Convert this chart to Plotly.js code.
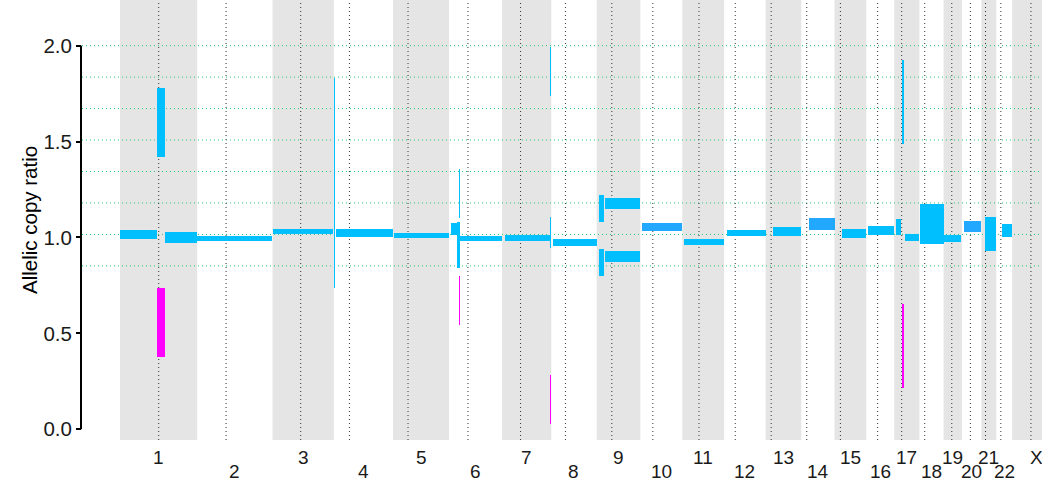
<!DOCTYPE html>
<html><head><meta charset="utf-8">
<script src="https://cdn.plot.ly/plotly-3.0.1.min.js"></script>
<style>html,body{margin:0;padding:0;background:#fff;}</style>
</head><body><div id="chart" style="width:1042px;height:497px;"></div>
<script>
// Chromosomes (Mb)
const chromNames = ['1','2','3','4','5','6','7','8','9','10','11','12','13','14','15','16','17','18','19','20','21','22','X'];
const chromLengths = [249.25, 243.2, 198.0, 191.15, 180.9, 171.1, 159.1, 146.4, 141.2, 135.5, 135.0, 133.85, 115.2, 107.3, 102.5, 90.35, 81.2, 78.1, 59.1, 63.0, 48.1, 51.3, 155.3];
const centromeres = [125.0, 93.3, 91.0, 50.4, 48.4, 61.0, 59.9, 45.6, 49.0, 40.2, 53.7, 35.8, 17.9, 17.6, 19.0, 36.6, 24.0, 17.2, 26.5, 27.5, 13.2, 14.7, 60.6];
// Expected allelic copy ratio levels (green dotted lines)
const refLevels = [0.852, 1.016, 1.180, 1.344, 1.508, 1.672, 1.836, 2.000];
const yTicks = [0, 0.5, 1.0, 1.5, 2.0];
const yTickText = ['0.0', '0.5', '1.0', '1.5', '2.0'];

// Major-allele segments (blue): chromosome index, start/end Mb, lower/upper ratio, tone (0 = deep sky blue, 1 = lighter blue)
const majChr   = [0, 0, 0, 1, 2, 3, 3, 4, 5, 5, 5, 5, 6, 6, 6, 7, 8, 8, 8, 8, 9, 10, 11, 12, 13, 14, 15, 16, 16, 16, 17, 18, 19, 20, 21];
const majStart = [0, 119.5, 145.3, 0, 0, 0, 7, 3, 6, 25.5, 32, 35.2, 9.7, 155, 155, 5.5, 7.4, 7.4, 26.8, 26.8, 5, 5.5, 9, 24, 25, 24, 5.5, 5.5, 24.9, 34.5, 2, 0.5, 7, 11.6, 18.4];
const majEnd   = [119.5, 145.3, 249.0, 243.0, 195.3, 3, 191.0, 181.0, 25.5, 35.2, 35.2, 171.1, 155, 159.1, 158, 146.4, 23.6, 23.6, 141.2, 141.2, 135.5, 135.0, 133.85, 115.2, 107.3, 102.5, 89.4, 21.6, 31.3, 81.2, 78.1, 56, 63.0, 47.0, 50.7];
const majLow   = [0.992, 1.421, 0.971, 0.982, 1.018, 0.737, 1.002, 0.997, 1.013, 0.841, 1.101, 0.982, 0.982, 0.945, 1.738, 0.955, 1.081, 0.799, 1.149, 0.871, 1.034, 0.961, 1.008, 1.008, 1.039, 0.997, 1.013, 1.013, 1.487, 0.981, 0.966, 0.976, 1.029, 0.929, 1.002];
const majHigh  = [1.039, 1.779, 1.029, 1.008, 1.044, 1.830, 1.044, 1.023, 1.075, 1.080, 1.357, 1.008, 1.013, 1.106, 1.993, 0.992, 1.221, 0.940, 1.206, 0.928, 1.075, 0.992, 1.039, 1.055, 1.102, 1.044, 1.060, 1.096, 1.925, 1.018, 1.174, 1.013, 1.086, 1.107, 1.070];
const majTone  = [0, 0, 0, 0, 0, 0, 0, 0, 0, 0, 0, 0, 0, 0, 0, 0, 0, 0, 0, 0, 1, 0, 0, 0, 1, 0, 0, 0, 0, 0, 0, 0, 1, 0, 0];

// Minor-allele segments (magenta)
const minChr   = [0, 5, 6, 16];
const minStart = [119.5, 32, 155, 24.9];
const minEnd   = [145.3, 35.2, 158, 31.3];
const minLow   = [0.377, 0.544, 0.028, 0.215];
const minHigh  = [0.737, 0.799, 0.283, 0.653];

const toneColors = ['#00BFFF', '#22A8FF'];
const minorColor = '#FF00FF';

const xRange = [-122.7, 2977.1];
const yRange = [-0.0558, 2.238];

// cumulative offsets
const offsets = [];
let acc = 0;
for (const L of chromLengths) { offsets.push(acc); acc += L; }

function barTrace(chr, s, e, lo, hi, colors) {
  return {
    type: 'bar',
    x: chr.map((c, i) => offsets[c] + (s[i] + e[i]) / 2),
    width: chr.map((c, i) => e[i] - s[i]),
    base: lo,
    y: lo.map((v, i) => hi[i] - v),
    marker: {color: colors, line: {width: 0}},
    hoverinfo: 'skip',
    showlegend: false
  };
}

const traces = [
  barTrace(majChr, majStart, majEnd, majLow, majHigh, majTone.map(t => toneColors[t])),
  barTrace(minChr, minStart, minEnd, minLow, minHigh, minorColor)
];

const shapes = [];
// alternating gray bands
chromLengths.forEach((L, i) => {
  if (i % 2 === 0) {
    shapes.push({type: 'rect', xref: 'x', yref: 'paper', x0: offsets[i], x1: offsets[i] + L, y0: 0, y1: 1,
      fillcolor: '#E5E5E5', line: {width: 0}, layer: 'below'});
  }
});
// green reference levels
refLevels.forEach(v => {
  shapes.push({type: 'line', xref: 'paper', yref: 'y', x0: 0, x1: 1, y0: v, y1: v,
    line: {color: 'rgb(40,200,120)', width: 1, dash: '1px,3px'}, layer: 'below'});
});
// centromere lines
centromeres.forEach((c, i) => {
  shapes.push({type: 'line', xref: 'x', yref: 'paper', x0: offsets[i] + c, x1: offsets[i] + c, y0: 0, y1: 1,
    line: {color: '#333333', width: 1, dash: '1px,3px'}, layer: 'below'});
});
// y axis line from 0 to 2
const py = v => (v - yRange[0]) / (yRange[1] - yRange[0]);
shapes.push({type: 'line', xref: 'paper', yref: 'paper', x0: -1 / 960, x1: -1 / 960, y0: py(yTicks[0]), y1: py(yTicks[yTicks.length - 1]),
  line: {color: '#000', width: 2}, layer: 'above'});

const FONT = 'Liberation Sans, Arial, sans-serif';
const annotations = chromNames.map((n, i) => ({
  text: n, xref: 'x', yref: 'paper', x: offsets[i] + chromLengths[i] / 2, y: 0,
  xanchor: 'center', yanchor: 'middle', yshift: (i % 2 === 0) ? -17 : -31,
  showarrow: false, font: {family: FONT, size: 19, color: '#1a1a1a'}
}));
annotations.push({
  text: 'Allelic copy ratio', textangle: -90, xref: 'paper', yref: 'paper', x: 0, y: 0.5,
  xanchor: 'center', yanchor: 'middle', xshift: -53, showarrow: false,
  font: {family: FONT, size: 20.5, color: '#000'}
});

const layout = {
  width: 1042, height: 497,
  margin: {l: 82, r: 0, t: 0, b: 57, pad: 0},
  paper_bgcolor: '#fff', plot_bgcolor: '#fff',
  barmode: 'overlay', bargap: 0,
  xaxis: {range: xRange, showgrid: false, zeroline: false, showticklabels: false, ticks: '', showline: false, fixedrange: true},
  yaxis: {range: yRange, showgrid: false, zeroline: false, showline: false,
    tickvals: yTicks, ticktext: yTickText, ticks: 'outside', ticklen: 5, tickwidth: 2, tickcolor: '#000',
    tickfont: {family: FONT, size: 20.5, color: '#1a1a1a'}, fixedrange: true},
  shapes: shapes,
  annotations: annotations,
  showlegend: false
};

Plotly.newPlot('chart', traces, layout, {staticPlot: true, displayModeBar: false});
</script>
</body></html>
